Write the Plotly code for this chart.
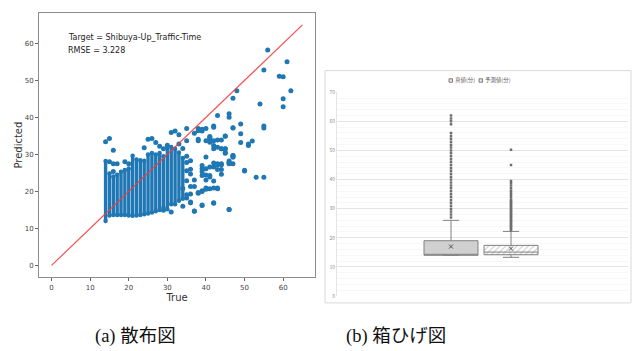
import plotly.graph_objects as go

# ---------------- (a) scatter data ----------------
# dense vertical columns: true value, lowest and highest predicted value
col_true = [14, 15, 16, 17, 18, 19, 20, 21, 22, 23, 24, 25, 26, 27, 28, 29, 30, 31, 32, 33, 34]
col_lo = [12.0, 13.5, 13.6, 13.6, 13.6, 13.6, 13.5, 13.4, 13.5, 13.6, 13.8, 14.0, 14.3, 14.6, 15.0, 15.6, 15.2, 16.5, 16.5, 17.5, 18.0]
col_hi = [28.2, 24.8, 24.0, 24.5, 25.3, 25.8, 26.2, 29.6, 28.6, 28.4, 28.3, 30.0, 30.4, 30.0, 30.4, 29.5, 32.0, 32.0, 31.5, 30.5, 29.0]

# scattered individual points
pt_true = [14, 15, 16, 15, 16, 17, 16, 19, 20, 24, 25, 26, 27, 28, 29, 30, 31, 32, 33, 35, 35, 37, 38, 39,
           40, 42, 41, 41, 43, 44, 43, 46, 46, 45, 44, 45, 45, 43, 44, 43, 44, 44, 42, 43, 42, 41, 41, 40,
           39, 38, 40, 39, 39, 39, 47, 48, 49, 47, 49, 49, 51, 51, 52, 47, 47, 47, 46, 46, 50, 53, 55, 55,
           55, 54, 56, 61, 55, 59, 60, 62, 60, 60, 46, 42, 39, 37, 31, 34, 36, 29,
           38, 38, 40, 41, 41, 42, 42, 42, 43, 44, 45, 45, 47, 47, 46, 46, 43, 44, 41, 42, 40, 39, 40, 41,
           40, 42, 43, 40, 39, 38, 37, 36, 37, 35, 36, 42, 39, 37, 46, 50, 47, 45, 42, 39, 38,
           35, 35, 35, 35, 35, 36, 36, 36, 36, 33, 34, 34]
pt_pred = [33.4, 34.3, 31.1, 28.0, 27.5, 27.5, 25.4, 28.0, 27.5, 31.8, 34.1, 34.3, 33.2, 32.2, 31.5, 32.5, 35.9, 36.3, 35.3, 37.0, 33.7, 35.7, 37.0, 36.3,
           37.0, 37.3, 34.8, 34.2, 33.9, 33.9, 40.5, 41.0, 40.0, 34.9, 31.5, 31.5, 30.3, 27.2, 27.2, 25.9, 25.9, 24.6, 27.7, 20.7, 22.8, 24.3, 20.7, 20.6,
           20.2, 19.7, 29.3, 26.1, 24.3, 27.0, 45.2, 47.2, 38.2, 37.1, 35.6, 33.2, 32.8, 32.4, 33.6, 29.7, 29.3, 27.5, 28.2, 27.6, 25.5, 23.8, 23.8, 37.7,
           37.1, 43.6, 58.2, 55.0, 52.8, 51.1, 51.0, 47.2, 45.0, 42.9, 15.1, 16.8, 16.2, 14.6, 14.4, 16.0, 17.1, 14.9,
           34.1, 33.7, 33.7, 34.6, 33.3, 33.7, 32.4, 31.5, 31.9, 31.5, 31.5, 30.6, 29.7, 29.3, 27.9, 27.5, 27.5, 27.5, 26.6, 26.6, 26.1, 25.3, 24.4, 23.9,
           23.1, 20.9, 20.9, 20.9, 20.0, 19.5, 23.1, 21.3, 21.3, 19.1, 16.9, 16.9, 16.3, 14.7, 15.1, 25.7, 37.2, 35.0, 37.7, 36.8, 36.4,
           29.5, 27.8, 25.6, 22.9, 18.2, 28.3, 26.0, 24.7, 19.3, 32.8, 31.6, 20.8]

ideal = [0, 65]
x_ticks = [0, 10, 20, 30, 40, 50, 60]
y_ticks = [0, 10, 20, 30, 40, 50, 60]

# ---------------- (b) box plot data ----------------
box_names = ["真値(分)", "予測値(分)"]
box_pos = [1, 2]
box_q1 = [14.0, 14.2]
box_med = [14.0, 15.1]
box_q3 = [19.0, 17.4]
box_lo = [14.0, 13.3]
box_hi = [26.0, 22.2]
box_mean = [17.0, 16.3]
out_true = [27, 28, 29, 30, 31, 32, 33, 34, 35, 36, 37, 38, 39, 40, 41, 42, 43, 44, 45, 46, 47, 48, 49, 50,
            51, 52, 53, 54, 55, 56, 59, 60, 61, 62]
out_pred = [22.6, 23.1, 23.6, 24.1, 24.5, 25.0, 25.4, 25.9, 26.3, 26.8, 27.3, 27.7, 28.2, 28.6, 29.1, 29.5,
            30.0, 30.5, 30.9, 31.4, 31.8, 32.3, 32.7, 33.2, 34.0, 34.8, 35.5, 36.2, 37.0, 38.0, 38.8, 39.5,
            45.0, 50.2]
box_ticks = [0, 10, 20, 30, 40, 50, 60, 70]

captions = ["(a) 散布図", "(b) 箱ひげ図"]

W, H = 632, 351
BLUE = "#1f77b4"

def px(x):
    return x / W

def py(y):
    return 1 - y / H

fig = go.Figure()

# dense columns as thick vertical runs
cx, cy = [], []
for t, lo, hi in zip(col_true, col_lo, col_hi):
    cx += [t, t, None]
    cy += [lo, hi, None]
fig.add_trace(go.Scatter(x=cx, y=cy, mode="lines+markers", line=dict(color=BLUE, width=3.4),
                         marker=dict(color=BLUE, size=4.5), xaxis="x", yaxis="y", showlegend=False,
                         hoverinfo="skip"))
fig.add_trace(go.Scatter(x=pt_true, y=pt_pred, mode="markers", marker=dict(color=BLUE, size=5),
                         xaxis="x", yaxis="y", showlegend=False))
fig.add_trace(go.Scatter(x=ideal, y=ideal, mode="lines", line=dict(color="rgba(245,60,60,0.9)", width=1.2),
                         xaxis="x", yaxis="y", showlegend=False))

# hatch fill for predicted box
fig.add_trace(go.Bar(x=[box_pos[1]], y=[box_q3[1] - box_q1[1]], base=[box_q1[1]], width=0.9,
                     marker=dict(color="white", line=dict(width=0),
                                 pattern=dict(shape="/", fgcolor="#8c8c8c", bgcolor="white", size=4, solidity=0.25)),
                     xaxis="x2", yaxis="y2", showlegend=False))
fills = ["#d0d0d0", "rgba(0,0,0,0)"]
for i in range(2):
    fig.add_trace(go.Box(x=[box_pos[i]], q1=[box_q1[i]], median=[box_med[i]], q3=[box_q3[i]],
                         lowerfence=[box_lo[i]], upperfence=[box_hi[i]], width=0.9, whiskerwidth=0.3,
                         fillcolor=fills[i], line=dict(color="#808080", width=1), boxpoints=False,
                         name=box_names[i], xaxis="x2", yaxis="y2", showlegend=False))
fig.add_trace(go.Scatter(x=[box_pos[0]] * len(out_true), y=out_true, mode="markers",
                         marker=dict(symbol="square", size=2.5, color="#6e6e6e"),
                         xaxis="x2", yaxis="y2", showlegend=False))
fig.add_trace(go.Scatter(x=[box_pos[1]] * len(out_pred), y=out_pred, mode="markers",
                         marker=dict(symbol="square", size=2.5, color="#6e6e6e"),
                         xaxis="x2", yaxis="y2", showlegend=False))
fig.add_trace(go.Scatter(x=box_pos, y=box_mean, mode="markers",
                         marker=dict(symbol="x-thin", size=4, line=dict(width=1, color="#505050")),
                         xaxis="x2", yaxis="y2", showlegend=False))

tickf = dict(family="DejaVu Sans", size=7, color="#444444")
fig.update_layout(
    width=W, height=H, margin=dict(l=0, r=0, t=0, b=0),
    paper_bgcolor="white", plot_bgcolor="white", showlegend=False,
    xaxis=dict(domain=[px(39), px(315)], range=[-3.25, 68.25], tickvals=x_ticks, ticks="outside",
               ticklen=3, tickcolor="#666", tickfont=tickf, showline=True, mirror=True,
               linecolor="#8c8c8c", showgrid=False, zeroline=False,
               title=dict(text="True", font=dict(family="DejaVu Sans", size=10, color="#333"), standoff=2)),
    yaxis=dict(domain=[py(279), py(9)], range=[-3.25, 68.25], tickvals=y_ticks, ticks="outside",
               ticklen=3, tickcolor="#666", tickfont=tickf, showline=True, mirror=True,
               linecolor="#8c8c8c", showgrid=False, zeroline=False,
               title=dict(text="Predicted", font=dict(family="DejaVu Sans", size=10, color="#333"), standoff=0)),
    xaxis2=dict(domain=[px(337), px(628)], range=[-0.9, 3.95], anchor="y2", showticklabels=False,
                ticks="", showgrid=False, zeroline=False, showline=False),
    yaxis2=dict(domain=[py(298), py(90)], range=[0, 70], anchor="x2", tickvals=box_ticks,
                tickfont=dict(family="Noto Sans CJK JP", size=5, color="#8c8c8c"), ticks="",
                showgrid=True, gridcolor="#e4e4e4", gridwidth=1, zeroline=False,
                showline=True, linecolor="#e4e4e4",
                minor=dict(dtick=2, showgrid=True, gridcolor="#f7f7f7", gridwidth=1)),
    bargap=0,
)

annots = [
    dict(x=px(66), y=py(34), text="Target = Shibuya-Up_Traffic-Time", xanchor="left", yanchor="middle"),
    dict(x=px(66), y=py(47), text="RMSE = 3.228", xanchor="left", yanchor="middle"),
]
for a in annots:
    fig.add_annotation(xref="paper", yref="paper", showarrow=False,
                       font=dict(family="DejaVu Sans", size=8, color="#222"), **a)

# legend of box chart (Excel style)
leg_sq = [449, 479]
leg_tx = [453, 483]
for s, t, name in zip(leg_sq, leg_tx, box_names):
    fig.add_shape(type="rect", xref="paper", yref="paper", x0=px(s), x1=px(s + 3.5), y0=py(79.8), y1=py(76.3),
                  line=dict(color="#606060", width=0.8), fillcolor="#e8e8e8")
    fig.add_annotation(xref="paper", yref="paper", x=px(t), y=py(78), text=name, showarrow=False,
                       xanchor="left", yanchor="middle",
                       font=dict(family="Noto Sans CJK JP", size=5.5, color="#606060"))

# outer frame of box chart
fig.add_shape(type="rect", xref="paper", yref="paper", x0=px(325), x1=px(631), y0=py(305), y1=py(68),
              line=dict(color="#d9d9d9", width=1))

for cx_, txt in zip([135, 396], captions):
    fig.add_annotation(xref="paper", yref="paper", x=px(cx_), y=py(339), text=txt, showarrow=False,
                       xanchor="center", yanchor="middle",
                       font=dict(family="Liberation Serif, Noto Sans CJK JP", size=18.5, color="#111"))

fig.write_html("out.html", config={"displayModeBar": False},
               post_script="document.body.style.margin='0';document.body.style.overflow='hidden';")
